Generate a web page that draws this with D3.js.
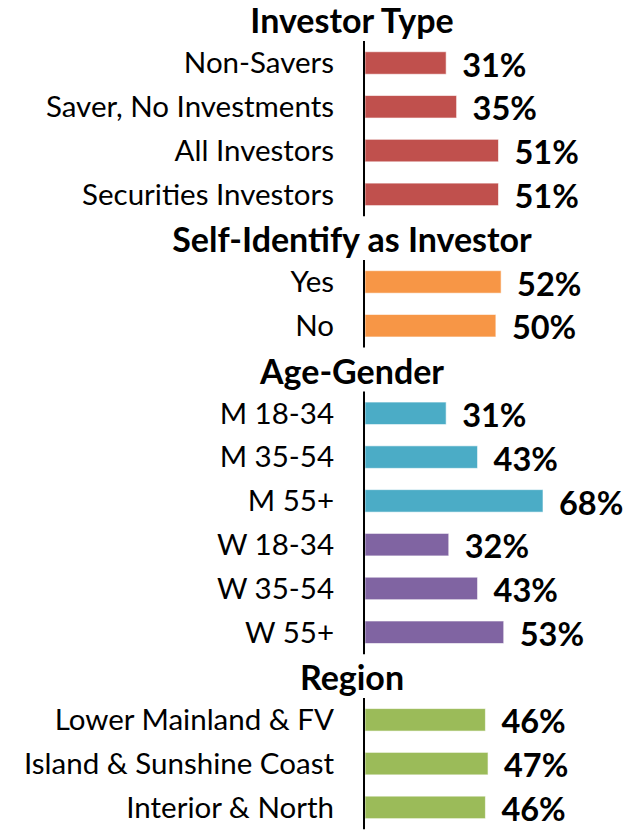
<!DOCTYPE html>
<html>
<head>
<meta charset="utf-8">
<script src="https://cdn.jsdelivr.net/npm/d3@7"></script>
<style>
  body { margin: 0; background: #fff; }
  svg { display: block; }
</style>
</head>
<body>
<div id="chart"></div>
<script>
// groups, in drawing order
var groups = ['Investor Type', 'Self-Identify as Investor', 'Age-Gender', 'Region'];

var investorLabels = ['Non-Savers', 'Saver, No Investments', 'All Investors', 'Securities Investors'];
var investorValues = [31, 35, 51, 51];

var selfIdLabels = ['Yes', 'No'];
var selfIdValues = [52, 50];

var ageGenderLabels = ['M 18-34', 'M 35-54', 'M 55+', 'W 18-34', 'W 35-54', 'W 55+'];
var ageGenderValues = [31, 43, 68, 32, 43, 53];

var regionLabels = ['Lower Mainland & FV', 'Island & Sunshine Coast', 'Interior & North'];
var regionValues = [46, 47, 46];

var colors = {
   red: '#C0504D',
   orange: '#F79646',
   blue: '#4BACC6',
   purple: '#8064A2',
   green: '#9BBB59'
};
var ageGenderColors = ['blue', 'blue', 'blue', 'purple', 'purple', 'purple'];

function makeBars(labels, values, colorFn) {
   return labels.map(function (l, i) {
      return {id: l, label: l, value: values[i], color: colors[colorFn(i)]};
   });
}

var sections = [
   {title: groups[0], bars: makeBars(investorLabels, investorValues, function () { return 'red'; })},
   {title: groups[1], bars: makeBars(selfIdLabels, selfIdValues, function () { return 'orange'; })},
   {title: groups[2], bars: makeBars(ageGenderLabels, ageGenderValues, function (i) { return ageGenderColors[i]; })},
   {title: groups[3], bars: makeBars(regionLabels, regionValues, function () { return 'green'; })}
];

// one row per header and per bar
var rows = [];
sections.forEach(function (s) {
   rows.push({id: 'h:' + s.title, header: true, title: s.title});
   s.bars.forEach(function (b) { rows.push(b); });
});

var width = 641,
   height = 836,
   axisX = 364,
   labelFont = 'Lato, "Open Sans", sans-serif';

var x = d3.scaleLinear().domain([0, 68]).range([axisX + 1, 543]);
var y = d3.scaleBand()
   .domain(rows.map(function (r) { return r.id; }))
   .range([-2.7, 829.3])
   .paddingInner(0.486)
   .paddingOuter(0.243);

var svg = d3.select('#chart')
   .append('svg')
   .attr('width', width)
   .attr('height', height);

// headers
svg.selectAll('text.header')
   .data(rows.filter(function (r) { return r.header; }))
   .enter().append('text')
   .attr('class', 'header')
   .attr('x', 352)
   .attr('y', function (d) { return y(d.id) + y.bandwidth() / 2 + 14; })
   .attr('text-anchor', 'middle')
   .style('font-family', labelFont)
   .style('font-weight', 'bold')
   .style('font-size', '34px')
   .style('fill', '#000')
   .text(function (d) { return d.title; });

var barRows = rows.filter(function (r) { return !r.header; });

svg.selectAll('rect.bar')
   .data(barRows)
   .enter().append('rect')
   .attr('class', 'bar')
   .attr('x', x(0))
   .attr('y', function (d) { return y(d.id); })
   .attr('width', function (d) { return x(d.value) - x(0); })
   .attr('height', y.bandwidth())
   .attr('fill', function (d) { return d.color; })
   .attr('stroke', 'rgba(255,255,255,0.6)')
   .attr('stroke-width', 1);

svg.selectAll('text.label')
   .data(barRows)
   .enter().append('text')
   .attr('class', 'label')
   .attr('x', axisX - 30)
   .attr('y', function (d) { return y(d.id) + y.bandwidth() / 2; })
   .attr('dy', '0.35em')
   .attr('text-anchor', 'end')
   .style('font-family', labelFont)
   .style('font-size', '29.5px')
   .style('fill', '#000')
   .text(function (d) { return d.label; });

svg.selectAll('text.value')
   .data(barRows)
   .enter().append('text')
   .attr('class', 'value')
   .attr('x', function (d) { return x(d.value) + 16; })
   .attr('y', function (d) { return y(d.id) + y.bandwidth() / 2; })
   .attr('dy', '0.42em')
   .style('font-family', labelFont)
   .style('font-weight', 'bold')
   .style('font-size', '32.5px')
   .style('fill', '#000')
   .text(function (d) { return d.value + '%'; });

// vertical axis line for each section
var pad = (y.step() - y.bandwidth()) / 2;
svg.selectAll('line.axis')
   .data(sections)
   .enter().append('line')
   .attr('class', 'axis')
   .attr('x1', axisX).attr('x2', axisX)
   .attr('y1', function (s) { return y(s.bars[0].id) - pad; })
   .attr('y2', function (s) { return y(s.bars[s.bars.length - 1].id) + y.bandwidth() + pad; })
   .attr('stroke', '#000')
   .attr('stroke-width', 2);
</script>
</body>
</html>
